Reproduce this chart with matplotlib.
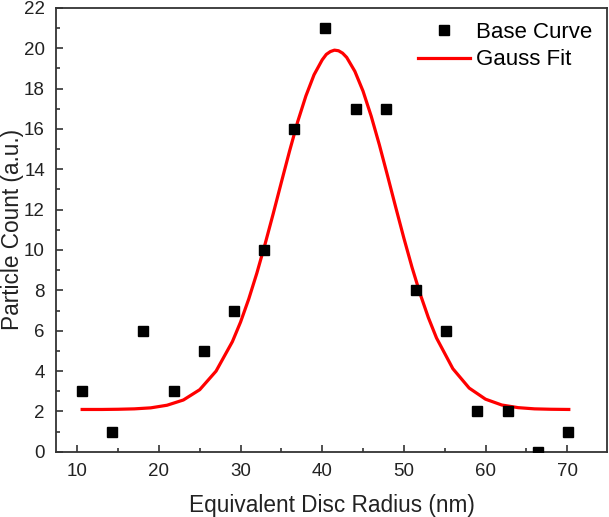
import matplotlib
matplotlib.use("Agg")
import matplotlib.pyplot as plt
from matplotlib.ticker import MultipleLocator

# measured points (equivalent disc radius, nm -> count)
radius = [10.6, 14.3, 18.1, 21.8, 25.5, 29.2, 32.9, 36.6, 40.4, 44.1,
          47.8, 51.5, 55.2, 58.9, 62.7, 66.4, 70.1]
count = [3, 1, 6, 3, 5, 7, 10, 16, 21, 17, 17, 8, 6, 2, 2, 0, 1]

# gauss fit curve
fit_x = [10.6, 13, 15, 17, 19, 21, 23, 25, 27, 29, 30, 31, 32, 33, 34, 35, 36, 37, 38,
         39, 40, 40.5, 41, 41.5, 42, 42.5, 43, 44, 45, 46, 47, 48, 49, 50, 51, 52, 53, 54,
         56, 58, 60, 62, 64, 66, 68, 70.2]
fit_y = [2.10, 2.10, 2.11, 2.13, 2.18, 2.31, 2.57, 3.08, 4.00, 5.46, 6.43, 7.57, 8.86,
         10.29, 11.80, 13.36, 14.90, 16.36, 17.63, 18.68, 19.42, 19.69, 19.83, 19.90,
         19.87, 19.75, 19.54, 18.85, 17.87, 16.63, 15.21, 13.68, 12.12, 10.59, 9.14,
         7.82, 6.65, 5.64, 4.12, 3.16, 2.61, 2.32, 2.19, 2.13, 2.11, 2.10]

plt.rcParams.update({"font.family": ["Liberation Sans", "DejaVu Sans"]})
fig = plt.figure(figsize=(6.09, 5.17), dpi=100)
ax = fig.add_axes([0.092, 0.126, 0.905, 0.859])

ax.plot(radius, count, "s", color="black", ms=6.5, label="Base Curve", zorder=3)
ax.plot(fit_x, fit_y, "-", color="#ff0000", lw=2.3, label="Gauss Fit", zorder=2)

ax.set_xlim(7.4, 74.9); ax.set_ylim(0, 22)
ax.xaxis.set_major_locator(MultipleLocator(10)); ax.xaxis.set_minor_locator(MultipleLocator(5))
ax.yaxis.set_major_locator(MultipleLocator(2)); ax.yaxis.set_minor_locator(MultipleLocator(1))
ax.tick_params(which="both", direction="in", top=False, right=False, labelsize=13.5,
               colors="#333333", labelcolor="#222222", pad=8)
ax.tick_params(which="major", length=5, width=1.2)
ax.tick_params(which="minor", length=3, width=1.2)
for s in ax.spines.values():
    s.set_linewidth(1.3); s.set_color("#333333")

ax.set_xlabel("Equivalent Disc Radius (nm)", fontsize=16.3, color="#222222", labelpad=10)
ax.set_ylabel("Particle Count (a.u.)", fontsize=16.3, color="#222222")
ax.yaxis.set_label_coords(-0.058, 0.5)
ax.legend(loc="upper right", frameon=False, fontsize=16, numpoints=1, handlelength=2.35,
          handletextpad=0.3, borderaxespad=0.25, labelspacing=0.28)

fig.savefig("out.png", dpi=100)
